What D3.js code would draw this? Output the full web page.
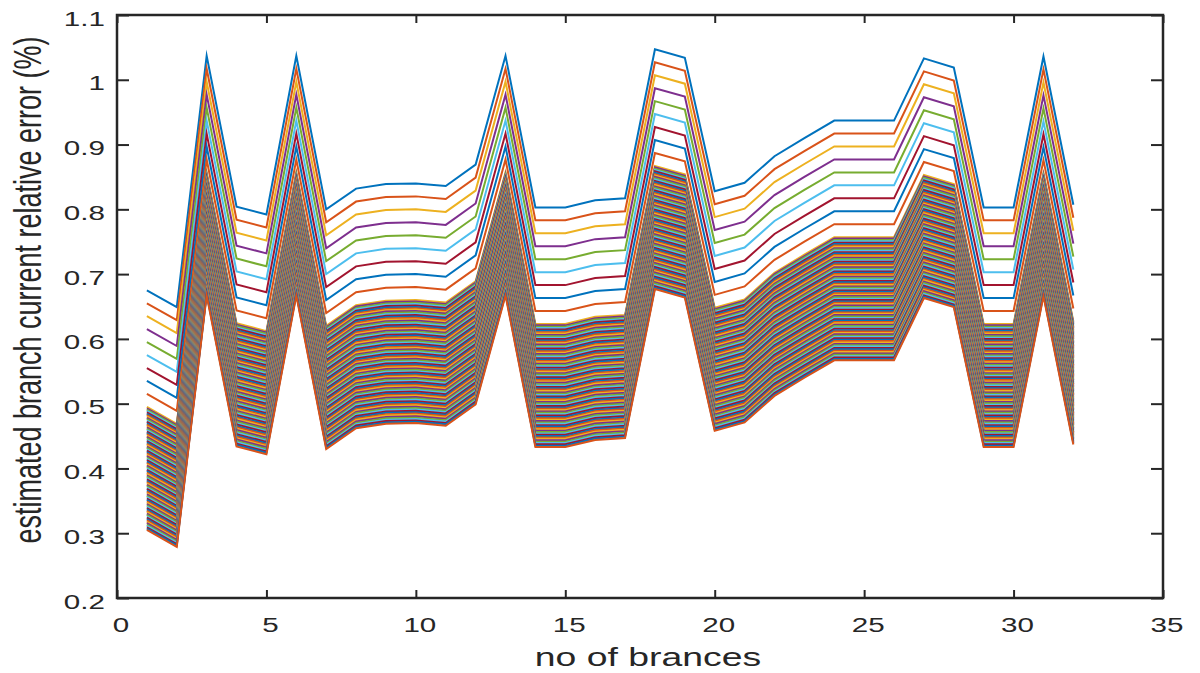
<!DOCTYPE html>
<html><head><meta charset="utf-8">
<script src="https://cdn.jsdelivr.net/npm/d3@7"></script>
<style>body{margin:0;background:#fff}svg{display:block}</style></head>
<body>
<svg id="c" width="1200" height="673"></svg>
<script>
// ---- data ----
const branches = [1,2,3,4,5,6,7,8,9,10,11,12,13,14,15,16,17,18,19,20,21,22,23,24,25,26,27,28,29,30,31,32];
// lowest curve (estimated branch current relative error, %)
const baseError = [0.305,0.279,0.667,0.434,0.422,0.667,0.430,0.462,0.469,0.470,0.466,0.499,0.667,0.433,0.433,0.444,
                   0.447,0.677,0.664,0.458,0.471,0.512,0.540,0.567,0.567,0.567,0.663,0.649,0.433,0.433,0.666,0.437];
// offsets of each curve above the lowest curve
const sparseOffsets = [0.37,0.35,0.33,0.31,0.29,0.27,0.25,0.23,0.21];
const denseOffsets = [0.1900,0.1879,0.1858,0.1837,0.1816,0.1794,0.1773,0.1752,0.1731,0.1710,0.1689,0.1668,0.1647,
  0.1626,0.1604,0.1583,0.1562,0.1541,0.1520,0.1499,0.1478,0.1457,0.1436,0.1414,0.1393,0.1372,0.1351,0.1330,0.1309,
  0.1288,0.1267,0.1246,0.1224,0.1203,0.1182,0.1161,0.1140,0.1119,0.1098,0.1077,0.1056,0.1034,0.1013,0.0992,0.0971,
  0.0950,0.0929,0.0908,0.0887,0.0866,0.0844,0.0823,0.0802,0.0781,0.0760,0.0739,0.0718,0.0697,0.0676,0.0654,0.0633,
  0.0612,0.0591,0.0570,0.0549,0.0528,0.0507,0.0486,0.0464,0.0443,0.0422,0.0401,0.0380,0.0359,0.0338,0.0317,0.0296,
  0.0274,0.0253,0.0232,0.0211,0.0190,0.0169,0.0148,0.0127,0.0106,0.0084,0.0063,0.0042,0.0021,0.0000];
const xTickValues = [0,5,10,15,20,25,30,35];
const xTickLabels = ["0","5","10","15","20","25","30","35"];
const yTickValues = [0.2,0.3,0.4,0.5,0.6,0.7,0.8,0.9,1.0,1.1];
const yTickLabels = ["0.2","0.3","0.4","0.5","0.6","0.7","0.8","0.9","1","1.1"];
const xLabel = "no of brances";
const yLabel = "estimated branch current relative error (%)";
const colors = ["#0072BD","#D95319","#EDB120","#7E2F8E","#77AC30","#4DBEEE","#A2142F"];

// ---- drawing ----
const svg = d3.select("#c");
const L = 117, R = 1163, T = 15, B = 598;
const SX = 1.41; // horizontal stretch of the text
const FONT = "'Liberation Sans', Arial, Helvetica, sans-serif";
const INK = "#262626";
const x = d3.scaleLinear().domain([0,35]).range([L,R]);
const y = d3.scaleLinear().domain([0.2,1.1]).range([B,T]);

const offsets = sparseOffsets.concat(denseOffsets);
const series = offsets.map(o => baseError.map((v,i) => ({b: branches[i], v: v + o})));
const line = d3.line().x(d => x(d.b)).y(d => y(d.v));

svg.append("g").selectAll("path").data(series).join("path")
  .attr("d", line).attr("fill","none")
  .attr("stroke", (d,i) => colors[i % colors.length])
  .attr("stroke-width", 2).attr("stroke-linejoin","miter").attr("stroke-miterlimit",10);

// ticks (inward, MATLAB box style)
function styleAxis(g){ g.select(".domain").remove(); g.selectAll("line").attr("stroke",INK).attr("stroke-width",2); g.selectAll("text").remove(); }
svg.append("g").attr("transform",`translate(0,${B})`).call(d3.axisBottom(x).tickValues(xTickValues).tickSize(-8)).call(styleAxis);
svg.append("g").attr("transform",`translate(0,${T})`).call(d3.axisTop(x).tickValues(xTickValues).tickSize(-8)).call(styleAxis);
svg.append("g").attr("transform",`translate(${L},0)`).call(d3.axisLeft(y).tickValues(yTickValues).tickSize(-12)).call(styleAxis);
svg.append("g").attr("transform",`translate(${R},0)`).call(d3.axisRight(y).tickValues(yTickValues).tickSize(-12)).call(styleAxis);

svg.append("rect").attr("x",L).attr("y",T).attr("width",R-L).attr("height",B-T)
  .attr("fill","none").attr("stroke",INK).attr("stroke-width",2.5);

// tick labels
svg.append("g").selectAll("text").data(xTickValues).join("text")
  .attr("transform", (d) => `translate(${x(d)+4},${B+33.5}) scale(${SX},1)`)
  .attr("text-anchor","middle").attr("font-family",FONT).attr("font-size",21).attr("fill",INK)
  .text((d,i) => xTickLabels[i]);
svg.append("g").selectAll("text").data(yTickValues).join("text")
  .attr("transform", (d) => `translate(${L-12},${y(d)+10.5}) scale(${SX},1)`)
  .attr("text-anchor","end").attr("font-family",FONT).attr("font-size",21).attr("fill",INK)
  .text((d,i) => yTickLabels[i]);

// axis titles
svg.append("text").attr("transform",`translate(648,666) scale(${SX},1)`)
  .attr("text-anchor","middle").attr("font-family",FONT).attr("font-size",26.5).attr("fill",INK).text(xLabel);
svg.append("text").attr("transform",`translate(41,290) scale(${SX},1) rotate(-90)`)
  .attr("text-anchor","middle").attr("font-family",FONT).attr("font-size",27).attr("fill",INK).text(yLabel);
</script>
</body></html>
